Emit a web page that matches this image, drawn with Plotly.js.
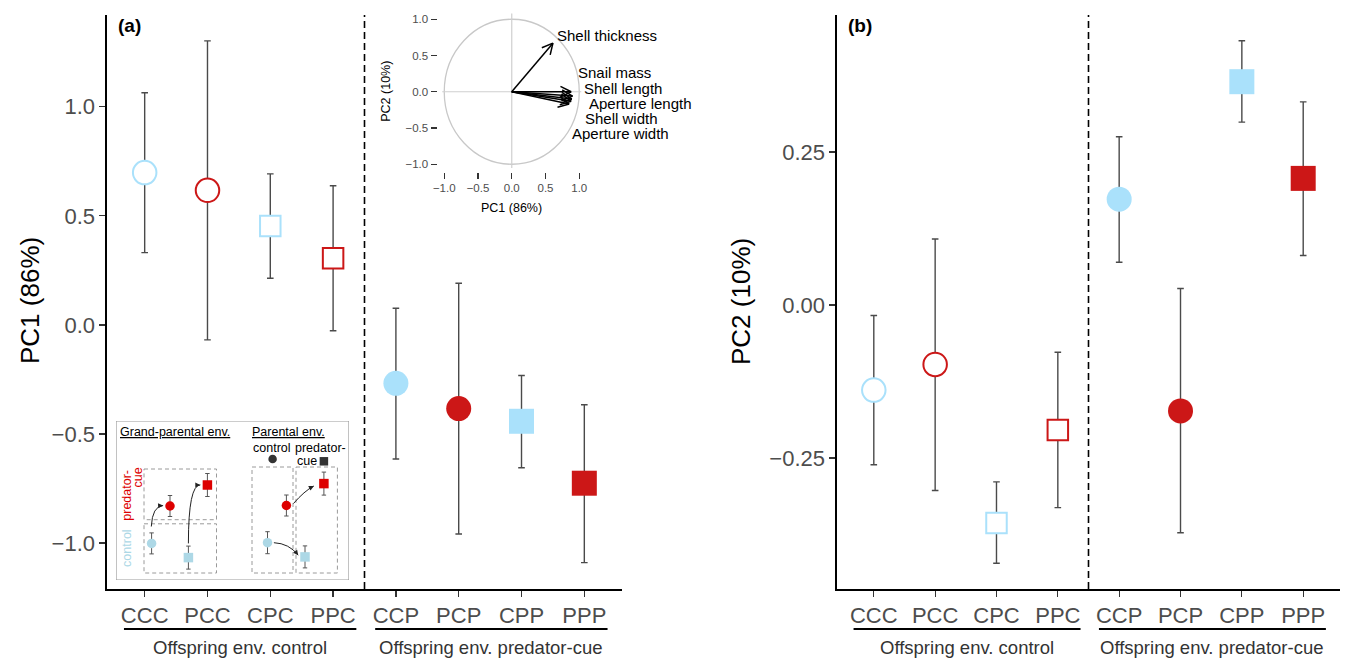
<!DOCTYPE html>
<html>
<head>
<meta charset="utf-8">
<script src="https://cdn.plot.ly/plotly-3.0.1.min.js"></script>
<style>html,body{margin:0;padding:0;background:#fff}#chart{width:1349px;height:658px}</style>
</head>
<body>
<div id="chart"></div>
<script>
// ---------------- data ----------------
const categories = ['CCC','PCC','CPC','PPC','CCP','PCP','CPP','PPP'];
const pc1Mean  = [0.698, 0.617, 0.453, 0.305, -0.268, -0.384, -0.442, -0.726];
const pc1Lower = [0.331, -0.069, 0.214, -0.027, -0.615, -0.959, -0.655, -1.090];
const pc1Upper = [1.064, 1.302, 0.692, 0.638, 0.076, 0.191, -0.232, -0.366];
const pc2Mean  = [-0.139, -0.097, -0.356, -0.204, 0.173, -0.173, 0.365, 0.207];
const pc2Lower = [-0.261, -0.303, -0.422, -0.331, 0.070, -0.372, 0.299, 0.081];
const pc2Upper = [-0.017, 0.108, -0.289, -0.077, 0.275, 0.027, 0.432, 0.332];
const groupLabels = ['Offspring env. control', 'Offspring env. predator-cue'];
const groupFirst = [0, 4];
const groupLast  = [3, 7];
const pc1TickVals = [-1, -0.5, 0, 0.5, 1];
const pc2TickVals = [-0.25, 0, 0.25];

// PCA loadings (inset)
const loadingNames = ['Shell thickness','Snail mass','Shell length','Aperture length','Shell width','Aperture width'];
const loadingPC1 = [0.61, 0.88, 0.90, 0.89, 0.88, 0.85];
const loadingPC2 = [0.67, 0.00, -0.06, -0.10, -0.13, -0.17];
const insetTickVals = [-1, -0.5, 0, 0.5, 1];

// schematic key (inset legend), schematic units
const keyGPx = [35.6, 54.0, 72.4, 91.4];
const keyGPy = [122.4, 85.0, 136.6, 64.0];
const keyGPerr = [10.5, 10.5, 11.5, 11.5];
const keyPx = [151.5, 170.4, 189.0, 207.9];
const keyPy = [121.7, 84.5, 135.9, 62.6];
const keyPerr = [11.0, 10.5, 11.0, 11.5];
const keyCue = ['control','predator-cue','control','predator-cue'];
const keyShape = ['circle','circle','square','square'];

// ---------------- styles / layout helpers ----------------
const W = 1349, H = 658;
const px = p => p / W;
const py = p => (H - p) / H;
const BLUE = '#AAE1FB', RED = '#CC1717';
const KBLUE = '#ADD8E6', KRED = '#DD0000';
const FONT = 'Liberation Sans, Arial, sans-serif';

function markerStyle(cats) {
  const color = [], line = [], lw = [], sym = [], size = [];
  cats.forEach(c => {
    const col = c[0] === 'C' ? BLUE : RED;
    const sq = c[1] === 'P';
    const filled = c[2] === 'P';
    sym.push(sq ? 'square' : 'circle');
    color.push(filled ? col : '#ffffff');
    line.push(col);
    lw.push(filled ? 0 : 2);
    size.push(filled ? 25 : (sq ? 20.5 : 23.5));
  });
  return {color: color, symbol: sym, size: size, opacity: 1, line: {color: line, width: lw}};
}

const xIdx = categories.map((c, i) => i);

function panelTrace(mean, lo, up, xa, ya) {
  return {
    type: 'scatter', mode: 'markers', x: xIdx, y: mean, xaxis: xa, yaxis: ya,
    marker: markerStyle(categories), cliponaxis: false, showlegend: false,
    error_y: {type: 'data', symmetric: false,
      array: mean.map((m, i) => up[i] - m),
      arrayminus: mean.map((m, i) => m - lo[i]),
      color: '#4a4a4a', thickness: 1.4, width: 3.3}
  };
}

const traces = [
  panelTrace(pc1Mean, pc1Lower, pc1Upper, 'x', 'y'),
  panelTrace(pc2Mean, pc2Lower, pc2Upper, 'x2', 'y2')
];

// inset PCA arrows
const inX = [437.5, 586], inY = [12, 171.5], inR = [-1.1, 1.1];
const sx = (inX[1] - inX[0]) / (inR[1] - inR[0]);
const sy = (inY[1] - inY[0]) / (inR[1] - inR[0]);
const inPaperX = v => px(inX[0] + (v - inR[0]) * sx);
const inPaperY = v => py(inY[1] - (v - inR[0]) * sy);
const ax = [], ay = [];
loadingPC1.forEach((lx, i) => {
  const ly = loadingPC2[i];
  ax.push(0, lx, null); ay.push(0, ly, null);
  const th = Math.atan2(ly * sy, lx * sx);
  const L = 12, ph = 27 * Math.PI / 180;
  [th + ph, th - ph].forEach(a => {
    ax.push(lx, lx - L * Math.cos(a) / sx, null);
    ay.push(ly, ly - L * Math.sin(a) / sy, null);
  });
});
traces.push({type: 'scatter', mode: 'lines', x: ax, y: ay, xaxis: 'x3', yaxis: 'y3',
  line: {color: '#000', width: 1.5}, showlegend: false, cliponaxis: false});

// key traces
function keyTrace(xs, ys, es) {
  return {type: 'scatter', mode: 'markers', x: xs, y: ys, xaxis: 'x4', yaxis: 'y4',
    showlegend: false, cliponaxis: false,
    marker: {symbol: keyShape, size: 9.5, opacity: 1, color: keyCue.map(c => c === 'control' ? KBLUE : KRED)},
    error_y: {type: 'data', array: es, color: '#555', thickness: 1, width: 2.2}};
}
traces.push(keyTrace(keyGPx, keyGPy, keyGPerr));
traces.push(keyTrace(keyPx, keyPy, keyPerr));
traces.push({type: 'scatter', mode: 'markers', x: [156.6, 207.9], y: [38, 40.3], xaxis: 'x4', yaxis: 'y4',
  showlegend: false, cliponaxis: false, marker: {symbol: ['circle','square'], size: 8.5, opacity: 1, color: '#333'}});

// ---------------- axes ----------------
const baseAxis = {showline: true, linecolor: '#000', linewidth: 1.6, ticks: 'outside', ticklen: 6,
  tickwidth: 1.3, tickcolor: '#333', tickfont: {family: FONT, size: 22, color: '#4d4d4d'},
  showgrid: false, zeroline: false, fixedrange: true, mirror: false};
const xCat = Object.assign({}, baseAxis, {range: [-0.6, 7.6], tickvals: xIdx, ticktext: categories});

const layout = {
  width: W, height: H, margin: {l: 0, r: 0, t: 0, b: 0},
  paper_bgcolor: '#fff', plot_bgcolor: 'rgba(0,0,0,0)', font: {family: FONT},
  showlegend: false,
  xaxis: Object.assign({}, xCat, {domain: [px(107), px(622)], anchor: 'y'}),
  yaxis: Object.assign({}, baseAxis, {domain: [py(589), py(15)], range: [-1.211, 1.4206], anchor: 'x',
    tickvals: pc1TickVals, tickformat: '.1f'}),
  xaxis2: Object.assign({}, xCat, {domain: [px(837), px(1340)], anchor: 'y2'}),
  yaxis2: Object.assign({}, baseAxis, {domain: [py(589), py(15)], range: [-0.464, 0.474], anchor: 'x2',
    tickvals: pc2TickVals, tickformat: '.2f'}),
  xaxis3: {domain: [px(inX[0]), px(inX[1])], range: inR, anchor: 'y3', showline: false, showgrid: false,
    zeroline: false, ticks: 'outside', ticklen: 6, tickwidth: 1.1, tickcolor: '#333',
    tickvals: insetTickVals, tickformat: '.1f', tickfont: {family: FONT, size: 11.5, color: '#4d4d4d'}, fixedrange: true},
  yaxis3: {domain: [py(inY[1]), py(inY[0])], range: inR, anchor: 'x3', showline: false, showgrid: false,
    zeroline: false, ticks: 'outside', ticklen: 6, tickwidth: 1.1, tickcolor: '#333',
    tickvals: insetTickVals, tickformat: '.1f', tickfont: {family: FONT, size: 11.5, color: '#4d4d4d'}, fixedrange: true},
  xaxis4: {domain: [px(116), px(349)], range: [0, 233], anchor: 'y4', visible: false, fixedrange: true},
  yaxis4: {domain: [py(580), py(421)], range: [159, 0], anchor: 'x4', visible: false, fixedrange: true},
  shapes: [], annotations: []
};

const S = layout.shapes, A = layout.annotations;

// dashed separators
['x', 'x2'].forEach(xr => {
  S.push({type: 'line', xref: xr, yref: 'paper', x0: 3.5, x1: 3.5, y0: py(589), y1: py(15),
    line: {color: '#000', width: 1.6, dash: '7px,4px'}});
});
// group brackets
['x', 'x2'].forEach(xr => {
  groupLabels.forEach((g, k) => {
    const a = groupFirst[k] - 0.33, b = groupLast[k] + 0.37;
    S.push({type: 'line', xref: xr, yref: 'paper', x0: a, x1: b, y0: py(629), y1: py(629),
      line: {color: '#000', width: 2}});
    A.push({xref: xr, yref: 'paper', x: (a + b) / 2, y: py(647), text: g, showarrow: false,
      xanchor: 'center', yanchor: 'middle', font: {family: FONT, size: 18.5, color: '#333'}});
  });
});
// panel tags & titles
A.push({xref: 'paper', yref: 'paper', x: px(116), y: py(25), text: '<b>(a)</b>', showarrow: false,
  xanchor: 'left', yanchor: 'middle', font: {family: FONT, size: 19, color: '#000'}});
A.push({xref: 'paper', yref: 'paper', x: px(846), y: py(25), text: '<b>(b)</b>', showarrow: false,
  xanchor: 'left', yanchor: 'middle', font: {family: FONT, size: 19, color: '#000'}});
A.push({xref: 'paper', yref: 'paper', x: px(30), y: py(301), text: 'PC1 (86%)', textangle: -90,
  showarrow: false, xanchor: 'center', yanchor: 'middle', font: {family: FONT, size: 26, color: '#000'}});
A.push({xref: 'paper', yref: 'paper', x: px(741), y: py(302), text: 'PC2 (10%)', textangle: -90,
  showarrow: false, xanchor: 'center', yanchor: 'middle', font: {family: FONT, size: 26, color: '#000'}});

// inset PCA circle and cross
S.push({type: 'circle', xref: 'x3', yref: 'y3', x0: -1, x1: 1, y0: -1, y1: 1, line: {color: '#c8c8c8', width: 1.3}, layer: 'below'});
S.push({type: 'line', xref: 'x3', yref: 'y3', x0: 0, x1: 0, y0: -1.05, y1: 1.08, line: {color: '#cfcfcf', width: 1.2}, layer: 'below'});
S.push({type: 'line', xref: 'x3', yref: 'y3', x0: -1.03, x1: 1.03, y0: 0, y1: 0, line: {color: '#cfcfcf', width: 1.2}, layer: 'below'});
A.push({xref: 'x3', yref: 'paper', x: 0, y: py(208), text: 'PC1 (86%)', showarrow: false,
  xanchor: 'center', yanchor: 'middle', font: {family: FONT, size: 12.5, color: '#000'}});
A.push({xref: 'paper', yref: 'y3', x: px(386), y: 0, text: 'PC2 (10%)', textangle: -90, showarrow: false,
  xanchor: 'center', yanchor: 'middle', font: {family: FONT, size: 12.5, color: '#000'}});
const loadLabelX = [0.641, 0.948, 1.046, 1.12, 1.052, 0.864];
const loadLabelY = [0.782, 0.262, 0.05, -0.16, -0.37, -0.58];
loadingNames.forEach((n, i) => {
  A.push({xref: 'paper', yref: 'paper', x: inPaperX(loadLabelX[i]), y: inPaperY(loadLabelY[i]), text: n, showarrow: false,
    xanchor: 'left', yanchor: 'middle', font: {family: FONT, size: 15, color: '#000'}});
});

// key box
S.push({type: 'rect', xref: 'x4', yref: 'y4', x0: 0, x1: 233, y0: 0, y1: 159, line: {color: '#9a9a9a', width: 1.2}, fillcolor: 'rgba(0,0,0,0)'});
const dashBox = {color: '#9a9a9a', width: 1, dash: '4px,3px'};
[[28, 100.5, 48, 98.7], [28, 100.5, 102.8, 152], [136, 177, 46, 152], [180, 221.4, 46, 152]].forEach(b => {
  S.push({type: 'rect', xref: 'x4', yref: 'y4', x0: b[0], x1: b[1], y0: b[2], y1: b[3], line: dashBox});
});
const keyFont = {family: FONT, size: 12.5, color: '#000'};
A.push({xref: 'x4', yref: 'y4', x: 2, y: 11, text: '<u>Grand-parental env.</u>', showarrow: false, xanchor: 'left', yanchor: 'middle', font: keyFont});
A.push({xref: 'x4', yref: 'y4', x: 134, y: 11, text: '<u>Parental env.</u>', showarrow: false, xanchor: 'left', yanchor: 'middle', font: keyFont});
A.push({xref: 'x4', yref: 'y4', x: 155.7, y: 26.8, text: 'control', showarrow: false, xanchor: 'center', yanchor: 'middle', font: keyFont});
A.push({xref: 'x4', yref: 'y4', x: 204, y: 26.8, text: 'predator-', showarrow: false, xanchor: 'center', yanchor: 'middle', font: keyFont});
A.push({xref: 'x4', yref: 'y4', x: 191, y: 39.5, text: 'cue', showarrow: false, xanchor: 'center', yanchor: 'middle', font: keyFont});
A.push({xref: 'x4', yref: 'y4', x: 11.5, y: 74.2, text: 'predator-', textangle: -90, showarrow: false, xanchor: 'center', yanchor: 'middle', font: {family: FONT, size: 12.5, color: KRED}});
A.push({xref: 'x4', yref: 'y4', x: 21, y: 56.5, text: 'cue', textangle: -90, showarrow: false, xanchor: 'center', yanchor: 'middle', font: {family: FONT, size: 12.5, color: KRED}});
A.push({xref: 'x4', yref: 'y4', x: 11.5, y: 127.4, text: 'control', textangle: -90, showarrow: false, xanchor: 'center', yanchor: 'middle', font: {family: FONT, size: 12.5, color: KBLUE}});

// curved arrows in key
const curves = [
  [[35.3, 105.5], [36.3, 85.2], [47.1, 84.5]],
  [[72.4, 122.4], [72.4, 64.0], [84.3, 63.9]],
  [[177.5, 82.5], [188.3, 70.0], [197.8, 65.0]],
  [[157.9, 121.7], [173.1, 122.4], [182.2, 134.2]]
];
curves.forEach(c => {
  S.push({type: 'path', xref: 'x4', yref: 'y4',
    path: 'M' + c[0][0] + ',' + c[0][1] + ' Q' + c[1][0] + ',' + c[1][1] + ' ' + c[2][0] + ',' + c[2][1],
    line: {color: '#222', width: 1}});
  const t = 0.3;
  A.push({xref: 'x4', yref: 'y4', axref: 'x4', ayref: 'y4', x: c[2][0], y: c[2][1],
    ax: c[2][0] + t * (c[1][0] - c[2][0]), ay: c[2][1] + t * (c[1][1] - c[2][1]),
    text: '', showarrow: true, arrowhead: 2, arrowsize: 1, arrowwidth: 1, arrowcolor: '#222', standoff: 0});
});

Plotly.newPlot('chart', traces, layout, {displayModeBar: false, staticPlot: true});
</script>
</body>
</html>
